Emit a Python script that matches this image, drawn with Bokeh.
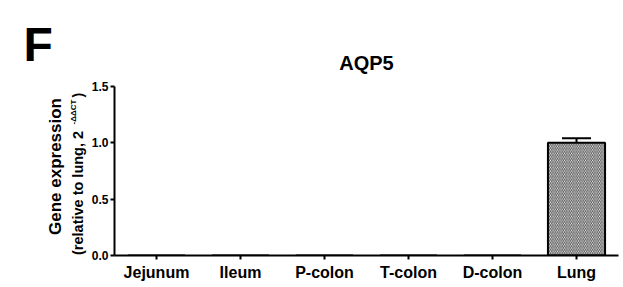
import math
from bokeh.plotting import figure
from bokeh.layouts import row
from bokeh.models import (FactorRange, Range1d, Label, FixedTicker, NumeralTickFormatter,
                          ColumnDataSource, Whisker, TeeHead, Title)
from bokeh.embed import file_html
from bokeh.resources import INLINE

tissues = ["Jejunum", "Ileum", "P-colon", "T-colon", "D-colon", "Lung"]
expression = [0.0, 0.0, 0.0, 0.0, 0.0, 1.0]
sem = [0.0, 0.0, 0.0, 0.0, 0.0, 0.04]
y_ticks = [0.0, 0.5, 1.0, 1.5]

FONT = "Liberation Sans"
LEFT_W = 88

# ---- left strip: panel letter and y-axis title ----
side = figure(width=LEFT_W, height=287, x_range=Range1d(0, LEFT_W), y_range=Range1d(0, 287),
              x_axis_type=None, y_axis_type=None, title_location=None,
              min_border_left=0, min_border_right=0, min_border_top=86, min_border_bottom=32,
              output_backend="svg", toolbar_location=None)
side.outline_line_color = None

side.add_layout(Title(text="F", align="left", offset=23, standoff=31, text_font=FONT,
                      text_font_style="bold", text_font_size="48px", text_color="black"),
                "above")

def lab(text, x, y, size, angle=0.0, align="left", baseline="middle"):
    side.add_layout(Label(x=x, y=y, x_units="canvas", y_units="canvas", text=text,
                          text_font=FONT, text_font_style="bold", text_font_size=size,
                          angle=angle, text_align=align, text_baseline=baseline,
                          text_color="black"))

lab("Gene expression", 55, 166, "17px", angle=math.pi / 2, align="center")
lab("(relative to lung, 2", 77, 254.5, "14.5px", angle=math.pi / 2)
lab("-\u0394\u0394CT", 73, 124, "8px", angle=math.pi / 2)
lab(")", 77, 97, "14.5px", angle=math.pi / 2)

# ---- main chart ----
p = figure(
    x_range=FactorRange(factors=tissues, range_padding=0),
    y_range=Range1d(0, 1.5),
    width=623 - LEFT_W, height=287, title_location=None,
    min_border_left=111 - LEFT_W, min_border_right=5, min_border_top=86, min_border_bottom=32,
    output_backend="svg", toolbar_location=None,
)
p.outline_line_color = None
p.xgrid.grid_line_color = None
p.ygrid.grid_line_color = None

bars = ColumnDataSource(dict(x=tissues, top=expression))
p.vbar(x="x", top="top", width=0.68, source=bars,
       fill_color="white", line_color="black", line_width=2,
       hatch_pattern="\\", hatch_color="black", hatch_scale=3.5, hatch_weight=1.0,
       hatch_alpha=0.7)

ex = [t for t, e in zip(tissues, sem) if e > 0]
ev = [v for v, e in zip(expression, sem) if e > 0]
ee = [e for e in sem if e > 0]
err = ColumnDataSource(dict(x=ex, y0=ev, y1=[v + e for v, e in zip(ev, ee)]))
p.add_layout(Whisker(base="x", lower="y0", upper="y1", source=err, dimension="height",
                     line_color="black", line_width=2, lower_head=None,
                     upper_head=TeeHead(size=29, line_width=2, line_color="black")))

for ax in (p.xaxis[0], p.yaxis[0]):
    ax.axis_line_width = 2
    ax.major_tick_line_width = 2
    ax.major_tick_out = 4
    ax.major_tick_in = 0
    ax.minor_tick_line_color = None
    ax.major_label_text_font = FONT
    ax.major_label_text_font_style = "bold"
    ax.major_label_text_color = "black"

p.xaxis.major_label_text_font_size = "16px"
p.xaxis.major_label_standoff = 4
p.yaxis.ticker = FixedTicker(ticks=y_ticks)
p.yaxis.formatter = NumeralTickFormatter(format="0.0")
p.yaxis.major_label_text_font_size = "12px"
p.yaxis.major_label_standoff = 2

p.add_layout(Title(text="AQP5", align="center", standoff=25, text_font=FONT,
                   text_font_style="bold", text_font_size="20px", text_color="black"), "above")

open("out.html", "w").write(file_html(row(side, p), INLINE))
